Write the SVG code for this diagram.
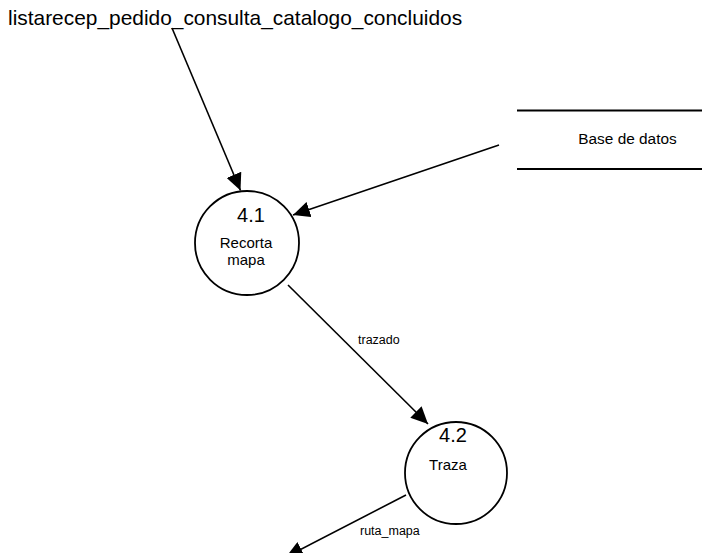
<svg xmlns="http://www.w3.org/2000/svg" width="702" height="553" viewBox="0 0 702 553">
  <style>
    text { font-family: "Liberation Sans", Arial, sans-serif; fill: #000; }
    .proc { fill: #fff; stroke: #000; stroke-width: 1.8; }
    .flow { fill: none; stroke: #000; stroke-width: 1.6; marker-end: url(#arrow); }
    .store { stroke: #000; stroke-width: 1.8; }
    .num { font-size: 20px; text-anchor: middle; }
    .name { font-size: 15px; text-anchor: middle; }
    .lbl { font-size: 12.5px; }
  </style>
  <defs>
    <marker id="arrow" markerUnits="userSpaceOnUse" markerWidth="18" markerHeight="16" viewBox="0 0 18 16" refX="17" refY="8" orient="auto">
      <path d="M0,0 L17,8 L0,16 Z" fill="#000"/>
    </marker>
  </defs>

  <!-- external flow source label -->
  <text id="ext" x="8" y="25" font-size="20.9px">listarecep_pedido_consulta_catalogo_concluidos</text>

  <!-- data store -->
  <g id="store-base-datos">
    <line class="store" x1="517" y1="110.5" x2="702" y2="110.5"/>
    <line class="store" x1="517" y1="169" x2="702" y2="169"/>
    <text x="627.5" y="144" font-size="15.4px" text-anchor="middle">Base de datos</text>
  </g>

  <!-- process 4.1 -->
  <g id="p41">
    <circle class="proc" cx="247" cy="243" r="52"/>
    <text class="num" x="251" y="222">4.1</text>
    <text class="name" x="246" y="248">Recorta</text>
    <text class="name" x="246" y="265">mapa</text>
  </g>

  <!-- process 4.2 -->
  <g id="p42">
    <circle class="proc" cx="456" cy="473" r="51"/>
    <text class="num" x="453" y="442">4.2</text>
    <text class="name" x="448" y="470">Traza</text>
  </g>

  <!-- data flows -->
  <g id="flows">
    <line class="flow" x1="172" y1="28" x2="240.5" y2="190.5"/>
    <line class="flow" x1="499" y1="145" x2="293" y2="215"/>
    <line class="flow" x1="288" y1="285" x2="428" y2="424"/>
    <line class="flow" x1="406" y1="495" x2="286" y2="557"/>
    <text class="lbl" x="358" y="344">trazado</text>
    <text class="lbl" x="360" y="535">ruta_mapa</text>
  </g>
</svg>
